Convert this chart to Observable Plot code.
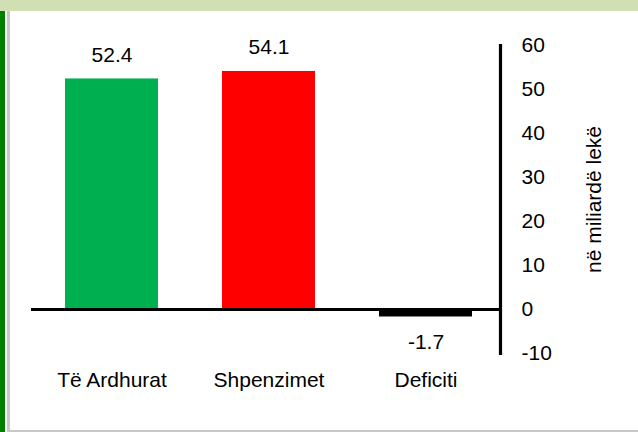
<!DOCTYPE html>
<html>
<head>
<meta charset="utf-8">
<script src="https://cdn.jsdelivr.net/npm/d3@7"></script>
<script src="https://cdn.jsdelivr.net/npm/@observablehq/plot@0.6"></script>
<style>
  html, body { margin: 0; padding: 0; background: #fff; }
  #wrap { position: relative; width: 638px; height: 432px; overflow: hidden; background: #fff; }
  #chart { position: absolute; left: 0; top: 0; }
  .topstrip { position: absolute; left: 0; top: 0; width: 638px; height: 11px; background: #d1e0b3; }
  .greenbar { position: absolute; left: 0; top: 11px; width: 5px; height: 421px; background: #008000; }
  .grayv { position: absolute; left: 7px; top: 11px; width: 3px; height: 421px; background: #c8c8c8; }
  .grayh { position: absolute; left: 9px; top: 430px; width: 629px; height: 2px; background: #c8c8c8; }
</style>
</head>
<body>
<div id="wrap">
  <div id="chart"></div>
  <div class="topstrip"></div>
  <div class="greenbar"></div>
  <div class="grayv"></div>
  <div class="grayh"></div>
</div>
<script>
const categories = ["Të Ardhurat", "Shpenzimet", "Deficiti"];
const values = [52.4, 54.1, -1.7];
const colors = ["#00b050", "#ff0000", "#000000"];
const valueLabels = ["52.4", "54.1", "-1.7"];
const yTicks = [-10, 0, 10, 20, 30, 40, 50, 60];
const yLabel = "në miliardë lekë";

const data = categories.map((c, i) => ({cat: c, value: values[i], color: colors[i], label: valueLabels[i]}));
const positive = data.filter(d => d.value >= 0);
const negative = data.filter(d => d.value < 0);

const plot = Plot.plot({
  width: 638,
  height: 432,
  marginLeft: 31,
  marginRight: 138,
  marginTop: 45,
  marginBottom: 79,
  style: {fontFamily: "Liberation Sans, Arial, sans-serif", fontSize: "21px", color: "#000", background: "transparent"},
  x: {domain: categories, range: [31, 506], paddingInner: 0.41, paddingOuter: 0.21},
  y: {domain: [-10, 60]},
  marks: [
    Plot.barY(data, {x: "cat", y: "value", fill: "color"}),
    Plot.ruleY([0], {stroke: "#000", strokeWidth: 3.2}),
    Plot.frame({anchor: "right", stroke: "#000", strokeWidth: 3.2}),
    Plot.text(positive, {x: "cat", y: "value", text: "label", dy: -24, lineAnchor: "middle", fontSize: 21, fill: "#000"}),
    Plot.text(negative, {x: "cat", y: "value", text: "label", dy: 25, lineAnchor: "middle", fontSize: 21, fill: "#000"}),
    Plot.axisY({anchor: "right", ticks: yTicks, tickSize: 0, tickPadding: 21, fontSize: 21,
      tickFormat: d => String(d), textAnchor: "start",
      label: yLabel, labelAnchor: "center", labelArrow: "none", labelOffset: 100}),
    Plot.axisX({anchor: "bottom", tickSize: 0, tickPadding: 19, fontSize: 21, label: null})
  ]
});
document.getElementById("chart").appendChild(plot);
</script>
</body>
</html>
